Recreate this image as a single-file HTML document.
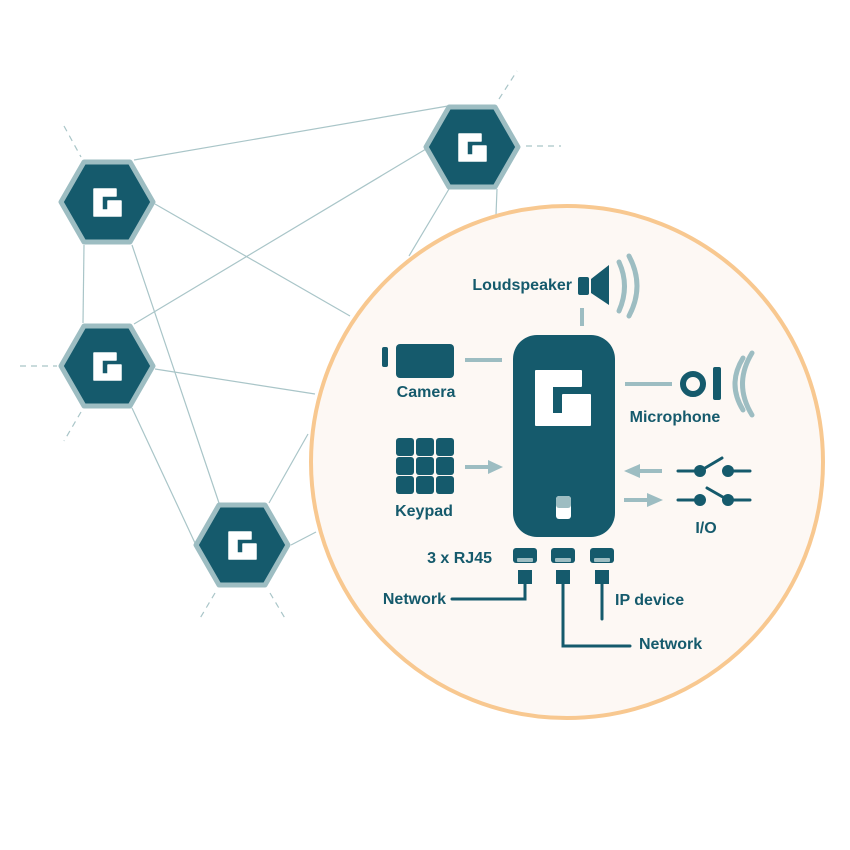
<!DOCTYPE html>
<html><head><meta charset="utf-8"><style>
html,body{margin:0;padding:0;background:#fff}
svg{display:block}
text{font-family:"Liberation Sans",sans-serif;font-weight:bold;font-size:16px;fill:#155a6c}
</style></head><body>
<svg width="850" height="850" viewBox="0 0 850 850" xmlns="http://www.w3.org/2000/svg">
<defs>
<g id="hex">
<polygon points="-46,0 -23,-40 23,-40 46,0 23,40 -23,40" fill="#155a6c" stroke="#9dbdc2" stroke-width="5" stroke-linejoin="round"/>
<path d="M-13,-13 H9 V-6 H-5 V8 H1 V-1 H14 V14 H-13 Z" fill="#fff" stroke="#fff" stroke-width="1.5" stroke-linejoin="round"/>
</g>
</defs>
<g stroke="#a9c5c8" stroke-width="1.2" fill="none">
<line x1="134" y1="160" x2="448" y2="106"/>
<line x1="155" y1="204" x2="350" y2="316"/>
<line x1="84" y1="245" x2="83" y2="323"/>
<line x1="132" y1="245" x2="219" y2="503"/>
<line x1="426" y1="149" x2="134" y2="324"/>
<line x1="449" y1="189" x2="409" y2="256"/>
<line x1="497" y1="189" x2="496" y2="215"/>
<line x1="155" y1="369" x2="315" y2="394"/>
<line x1="132" y1="408" x2="195" y2="543"/>
<line x1="269" y1="503" x2="308" y2="434"/>
<line x1="291" y1="545" x2="316" y2="532"/>
<g stroke-dasharray="6,5">
<line x1="64" y1="126" x2="81" y2="157"/>
<line x1="499" y1="99" x2="517" y2="71"/>
<line x1="526" y1="146" x2="561" y2="146"/>
<line x1="20" y1="366" x2="57" y2="366"/>
<line x1="81" y1="412" x2="64" y2="441"/>
<line x1="215" y1="593" x2="199" y2="620"/>
<line x1="270" y1="593" x2="286" y2="620"/>
</g>
</g>
<use href="#hex" x="107" y="202"/>
<use href="#hex" x="472" y="147"/>
<use href="#hex" x="107" y="366"/>
<use href="#hex" x="242" y="545"/>

<circle cx="567" cy="462" r="256" fill="#fdf8f4" stroke="#f8c890" stroke-width="4"/>

<!-- device -->
<rect x="513" y="335" width="102" height="202" rx="24" fill="#155a6c"/>
<path d="M536,371 H581 V386 H552 V414 H563 V395 H590 V425 H536 Z" fill="#fff" stroke="#fff" stroke-width="2" stroke-linejoin="round"/>
<rect x="556" y="496" width="15" height="23" rx="3" fill="#fff"/>
<rect x="556" y="496" width="15" height="12" rx="3" fill="#9dbdc2"/>

<!-- loudspeaker -->
<rect x="578" y="277" width="11" height="18" rx="2" fill="#155a6c"/>
<polygon points="591,279 609,265 609,305 591,293" fill="#155a6c"/>
<path d="M619,262 Q630,286 619,311" stroke="#9dbdc2" stroke-width="5" fill="none" stroke-linecap="round"/>
<path d="M629,256 Q645,286 629,316" stroke="#9dbdc2" stroke-width="5" fill="none" stroke-linecap="round"/>
<line x1="582" y1="308" x2="582" y2="326" stroke="#9dbdc2" stroke-width="4"/>
<text x="572" y="290" text-anchor="end">Loudspeaker</text>

<!-- camera -->
<rect x="382" y="347" width="6" height="20" rx="2" fill="#155a6c"/>
<rect x="396" y="344" width="58" height="34" rx="4" fill="#155a6c"/>
<line x1="465" y1="360" x2="502" y2="360" stroke="#9dbdc2" stroke-width="4"/>
<text x="426" y="397" text-anchor="middle">Camera</text>

<!-- keypad -->
<g fill="#155a6c">
<rect x="396" y="438" width="18" height="18" rx="3"/><rect x="416" y="438" width="18" height="18" rx="3"/><rect x="436" y="438" width="18" height="18" rx="3"/>
<rect x="396" y="457" width="18" height="18" rx="3"/><rect x="416" y="457" width="18" height="18" rx="3"/><rect x="436" y="457" width="18" height="18" rx="3"/>
<rect x="396" y="476" width="18" height="18" rx="3"/><rect x="416" y="476" width="18" height="18" rx="3"/><rect x="436" y="476" width="18" height="18" rx="3"/>
</g>
<line x1="465" y1="467" x2="490" y2="467" stroke="#9dbdc2" stroke-width="4"/>
<polygon points="488,460 503,467 488,474" fill="#9dbdc2"/>
<text x="424" y="516" text-anchor="middle">Keypad</text>

<!-- microphone -->
<line x1="625" y1="384" x2="672" y2="384" stroke="#9dbdc2" stroke-width="4"/>
<circle cx="693" cy="384" r="10" fill="none" stroke="#155a6c" stroke-width="6"/>
<rect x="713" y="367" width="8" height="33" rx="2" fill="#155a6c"/>
<path d="M743,358 Q727,384 743,410" stroke="#9dbdc2" stroke-width="5" fill="none" stroke-linecap="round"/>
<path d="M752,353 Q733,384 752,415" stroke="#9dbdc2" stroke-width="5" fill="none" stroke-linecap="round"/>
<text x="675" y="422" text-anchor="middle">Microphone</text>

<!-- I/O -->
<line x1="637" y1="471" x2="662" y2="471" stroke="#9dbdc2" stroke-width="4"/>
<polygon points="640,464 624,471 640,478" fill="#9dbdc2"/>
<line x1="624" y1="500" x2="650" y2="500" stroke="#9dbdc2" stroke-width="4"/>
<polygon points="647,493 663,500 647,507" fill="#9dbdc2"/>
<g stroke="#155a6c" stroke-width="3" fill="#155a6c" stroke-linecap="round">
<line x1="678" y1="471" x2="700" y2="471"/><line x1="728" y1="471" x2="750" y2="471"/>
<line x1="700" y1="471" x2="722" y2="458"/>
<line x1="678" y1="500" x2="700" y2="500"/><line x1="728" y1="500" x2="750" y2="500"/>
<line x1="707" y1="488" x2="728" y2="500"/>
<circle cx="700" cy="471" r="6" stroke="none"/><circle cx="728" cy="471" r="6" stroke="none"/>
<circle cx="700" cy="500" r="6" stroke="none"/><circle cx="728" cy="500" r="6" stroke="none"/>
</g>
<text x="706" y="533" text-anchor="middle">I/O</text>

<!-- RJ45 -->
<g fill="#155a6c">
<rect x="513" y="548" width="24" height="15" rx="3"/>
<rect x="551" y="548" width="24" height="15" rx="3"/>
<rect x="590" y="548" width="24" height="15" rx="3"/>
<rect x="518" y="570" width="14" height="14"/>
<rect x="556" y="570" width="14" height="14"/>
<rect x="595" y="570" width="14" height="14"/>
</g>
<g fill="#9dbdc2">
<rect x="517" y="558" width="16" height="4" rx="1"/>
<rect x="555" y="558" width="16" height="4" rx="1"/>
<rect x="594" y="558" width="16" height="4" rx="1"/>
</g>
<g stroke="#155a6c" stroke-width="3" fill="none" stroke-linecap="round">
<polyline points="525,584 525,599 452,599"/>
<polyline points="563,584 563,646 630,646"/>
<line x1="602" y1="584" x2="602" y2="619"/>
</g>
<text x="492" y="563" text-anchor="end">3 x RJ45</text>
<text x="446" y="604" text-anchor="end">Network</text>
<text x="615" y="605">IP device</text>
<text x="639" y="649">Network</text>
</svg>
</body></html>
